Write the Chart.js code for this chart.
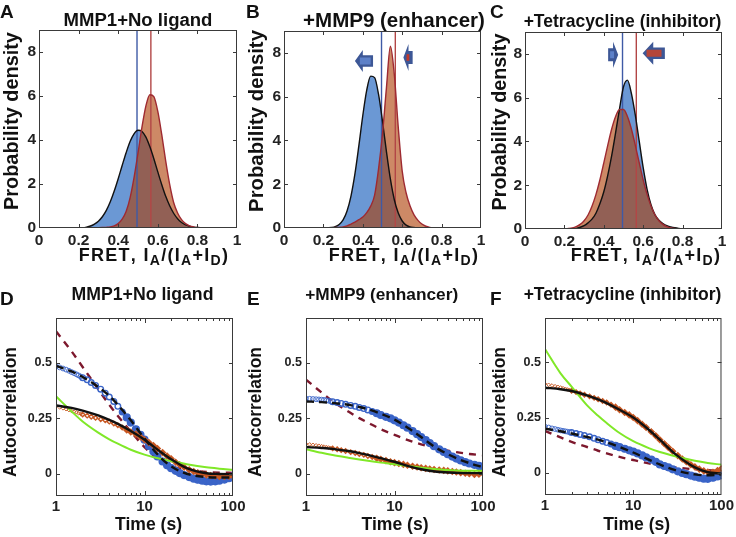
<!DOCTYPE html>
<html>
<head>
<meta charset="utf-8">
<script src="https://cdn.jsdelivr.net/npm/chart.js@4/dist/chart.umd.min.js"></script>
<style>
body { margin: 0; background: #fff; }
#wrap { position: relative; width: 736px; height: 537px; overflow: hidden; }
#wrap canvas { position: absolute; left: 0; top: 0; }
</style>
</head>
<body>
<div id="wrap">
<canvas id="pA" width="736" height="537"></canvas>
<canvas id="pB" width="736" height="537"></canvas>
<canvas id="pC" width="736" height="537"></canvas>
<canvas id="pD" width="736" height="537"></canvas>
<canvas id="pE" width="736" height="537"></canvas>
<canvas id="pF" width="736" height="537"></canvas>
</div>
<script>
// ---- FRET histograms (probability density), shared bins ----
var fretBins = [0.20, 0.22, 0.24, 0.26, 0.28, 0.30, 0.32, 0.34, 0.36, 0.38, 0.40, 0.42, 0.44, 0.46, 0.48, 0.50, 0.52, 0.54,
                0.56, 0.58, 0.60, 0.62, 0.64, 0.66, 0.68, 0.70, 0.72, 0.74, 0.76, 0.78, 0.80, 0.82, 0.84, 0.86, 0.88, 0.90];

var blueA   = [0, 0.01, 0.04, 0.09, 0.18, 0.31, 0.51, 0.80, 1.19, 1.68, 2.24, 2.84, 3.42, 3.93, 4.28, 4.44, 4.39, 4.13,
               3.69, 3.15, 2.55, 1.97, 1.44, 1.01, 0.67, 0.42, 0.25, 0.14, 0.08, 0.04, 0.02, 0.01, 0, 0, 0, 0];
var orangeA = [0, 0, 0, 0, 0, 0.01, 0.02, 0.03, 0.05, 0.10, 0.20, 0.40, 0.75, 1.37, 2.29, 3.40, 4.58, 5.55,
               6.06, 5.97, 5.30, 4.24, 3.04, 1.98, 1.16, 0.68, 0.38, 0.20, 0.10, 0.05, 0.02, 0.01, 0, 0, 0, 0];

var blueB   = [0, 0, 0.02, 0.06, 0.16, 0.37, 0.78, 1.46, 2.47, 3.76, 5.14, 6.30, 6.94, 6.87, 6.10, 4.87, 3.49, 2.24,
               1.29, 0.68, 0.32, 0.13, 0.05, 0.02, 0, 0, 0, 0, 0, 0, 0, 0, 0, 0, 0, 0];
var orangeB = [0, 0, 0, 0.02, 0.03, 0.05, 0.10, 0.18, 0.27, 0.38, 0.50, 0.70, 1.00, 1.50, 2.70, 4.30, 6.40, 8.30,
               7.00, 4.60, 2.60, 1.60, 1.00, 0.60, 0.35, 0.18, 0.08, 0.03, 0.01, 0, 0, 0, 0, 0, 0, 0];

var blueC   = [0, 0, 0.01, 0.03, 0.08, 0.15, 0.28, 0.45, 0.72, 1.15, 1.70, 2.45, 3.35, 4.40, 5.50, 6.50, 6.80, 6.20,
               5.20, 4.00, 2.80, 1.80, 1.10, 0.65, 0.40, 0.25, 0.15, 0.10, 0.06, 0.03, 0.01, 0, 0, 0, 0, 0];
var orangeC = [0, 0.02, 0.05, 0.11, 0.21, 0.38, 0.64, 1.04, 1.57, 2.24, 3.02, 3.82, 4.57, 5.14, 5.46, 5.46, 5.14, 4.57,
               3.82, 3.02, 2.24, 1.57, 1.04, 0.64, 0.38, 0.21, 0.11, 0.05, 0.02, 0, 0, 0, 0, 0, 0, 0];

var refFret = { blue: 0.495, red: 0.565 };
var densityMax = 9;
var densityTicks = [0, 2, 4, 6, 8];
var fretTicks = [0, 0.2, 0.4, 0.6, 0.8, 1];

// ---- autocorrelation data ----
var timeGrid = [1, 1.1, 1.2, 1.3, 1.4, 1.5, 1.6, 1.7, 1.8, 1.9, 2,
                2.25, 2.5, 2.8, 3.2, 3.6, 4, 4.5, 5, 5.6, 6.3, 7, 8, 9, 10,
                11.2, 12.6, 14, 16, 18, 20, 22.5, 25, 28, 32, 36, 40, 45, 50, 56, 63, 70, 80, 90, 100];

var acfBlueD  = [0.483, 0.478, 0.473, 0.468, 0.463, 0.457, 0.452, 0.447, 0.442, 0.437, 0.432,
                 0.422, 0.41, 0.397, 0.38, 0.362, 0.345, 0.325, 0.303, 0.278, 0.253, 0.23, 0.2, 0.175, 0.153,
                 0.125, 0.1, 0.078, 0.055, 0.038, 0.025, 0.013, 0.003, -0.006, -0.015, -0.022, -0.027, -0.031, -0.034, -0.035, -0.034, -0.031, -0.026, -0.02, -0.012];
var acfBrownD = [0.303, 0.298, 0.294, 0.29, 0.286, 0.282, 0.279, 0.276, 0.272, 0.269, 0.266,
                 0.261, 0.256, 0.251, 0.245, 0.24, 0.234, 0.226, 0.218, 0.208, 0.197, 0.188, 0.178, 0.165, 0.153,
                 0.14, 0.127, 0.113, 0.095, 0.08, 0.067, 0.052, 0.04, 0.029, 0.018, 0.01, 0.004, -0.001, -0.005, -0.008, -0.01, -0.012, -0.012, -0.011, -0.01];
var acfBlueE  = [0.338, 0.337, 0.336, 0.335, 0.334, 0.333, 0.332, 0.33, 0.328, 0.326, 0.324,
                 0.32, 0.316, 0.312, 0.307, 0.303, 0.298, 0.293, 0.287, 0.28, 0.272, 0.264, 0.256, 0.249, 0.24,
                 0.23, 0.218, 0.207, 0.192, 0.178, 0.165, 0.151, 0.138, 0.124, 0.11, 0.098, 0.088, 0.077, 0.068, 0.06, 0.052, 0.046, 0.04, 0.035, 0.03];
var acfBrownE = [0.134, 0.132, 0.13, 0.128, 0.126, 0.124, 0.122, 0.12, 0.118, 0.116, 0.114,
                 0.11, 0.106, 0.102, 0.097, 0.093, 0.089, 0.085, 0.08, 0.075, 0.07, 0.065, 0.059, 0.054, 0.05,
                 0.046, 0.042, 0.038, 0.034, 0.03, 0.027, 0.024, 0.021, 0.019, 0.017, 0.015, 0.013, 0.01, 0.008, 0.005, 0.002, 0, -0.003, -0.002, 0.002];
var acfBlueF  = [0.209, 0.205, 0.201, 0.198, 0.195, 0.192, 0.19, 0.188, 0.186, 0.184, 0.182,
                 0.178, 0.174, 0.169, 0.163, 0.156, 0.15, 0.143, 0.137, 0.13, 0.122, 0.116, 0.109, 0.102, 0.096,
                 0.088, 0.079, 0.07, 0.06, 0.05, 0.038, 0.031, 0.025, 0.016, 0.007, 0, -0.006, -0.012, -0.017, -0.022, -0.026, -0.027, -0.022, -0.016, -0.011];
var acfBrownF = [0.402, 0.398, 0.395, 0.392, 0.389, 0.386, 0.383, 0.38, 0.377, 0.374, 0.371,
                 0.365, 0.359, 0.353, 0.346, 0.339, 0.333, 0.325, 0.318, 0.308, 0.297, 0.285, 0.273, 0.262, 0.25,
                 0.236, 0.22, 0.205, 0.186, 0.168, 0.15, 0.132, 0.115, 0.098, 0.078, 0.063, 0.05, 0.037, 0.027, 0.017, 0.009, 0.004, 0.003, 0.01, 0.02];

// fitted / model curves
var fitTime = [1, 1.5, 2, 3, 4, 5, 7, 10, 15, 20, 30, 50, 70, 100];

var fitDashD = [0.485, 0.46, 0.435, 0.39, 0.35, 0.31, 0.24, 0.158, 0.075, 0.033, 0, -0.015, -0.017, -0.017];
var fitSolidD = [0.307, 0.296, 0.284, 0.262, 0.242, 0.224, 0.192, 0.153, 0.1, 0.065, 0.025, 0.002, -0.001, -0.002];
var modelRedD = [0.64, 0.55, 0.48, 0.38, 0.31, 0.26, 0.19, 0.12, 0.06, 0.035, 0.017, 0.008, 0.005, 0.004];
var modelGreenD = [0.348, 0.28, 0.235, 0.185, 0.155, 0.135, 0.108, 0.086, 0.067, 0.057, 0.043, 0.029, 0.023, 0.018];

var fitDashE = [0.325, 0.322, 0.318, 0.31, 0.3, 0.29, 0.27, 0.243, 0.2, 0.165, 0.115, 0.07, 0.048, 0.03];
var fitSolidE = [0.12, 0.116, 0.112, 0.102, 0.093, 0.085, 0.07, 0.054, 0.032, 0.02, 0.009, 0.004, 0.003, 0.003];
var modelRedE = [0.423, 0.365, 0.325, 0.28, 0.25, 0.23, 0.2, 0.175, 0.148, 0.132, 0.114, 0.097, 0.089, 0.083];
var modelGreenE = [0.11, 0.094, 0.084, 0.072, 0.064, 0.058, 0.05, 0.043, 0.034, 0.027, 0.02, 0.015, 0.014, 0.014];

var fitDashF = [0.2, 0.188, 0.178, 0.162, 0.15, 0.138, 0.117, 0.092, 0.06, 0.038, 0.012, -0.007, -0.011, -0.008];
var fitSolidF = [0.385, 0.378, 0.37, 0.35, 0.332, 0.315, 0.285, 0.25, 0.195, 0.15, 0.085, 0.025, 0.003, -0.003];
var modelRedF = [0.19, 0.16, 0.14, 0.117, 0.1, 0.088, 0.072, 0.058, 0.043, 0.034, 0.025, 0.016, 0.012, 0.008];
var modelGreenF = [0.56, 0.45, 0.39, 0.305, 0.258, 0.225, 0.18, 0.143, 0.112, 0.094, 0.075, 0.055, 0.045, 0.037];

var acfTicks = [0, 0.25, 0.5];
var timeTicks = [1, 2, 3, 4, 5, 6, 7, 8, 9, 10, 20, 30, 40, 50, 60, 70, 80, 90, 100];
var timeLabels = [1, 10, 100];

var fretTitle = [{ s: 'FRET, I' }, { s: 'A', sub: true }, { s: '/(I' }, { s: 'A', sub: true },
                 { s: '+I' }, { s: 'D', sub: true }, { s: ')' }];

var FONT = '"Liberation Sans", Arial, Helvetica, sans-serif';
Chart.defaults.font.family = FONT;
Chart.defaults.font.weight = 'bold';
Chart.defaults.color = '#222';

function pairs(xs, ys) {
    return xs.map(function(x, i) { return { x: x, y: ys[i] }; });
}

function sizeFor(ctx, text, width) {
    ctx.font = 'bold 100px ' + FONT;
    return 100 * width / ctx.measureText(text).width;
}

var SUB = 0.78;

function richWidth(ctx, parts, size) {
    var w = 0;
    parts.forEach(function(p) {
        ctx.font = 'bold ' + (p.sub ? size * SUB : size) + 'px ' + FONT;
        w += ctx.measureText(p.s).width;
    });
    return w;
}

function drawArrow(ctx, xs, ys, ar) {
    var tip = xs.getPixelForValue(ar.tip);
    var base = xs.getPixelForValue(ar.base);
    var tail = xs.getPixelForValue(ar.tail);
    var yc = ys.getPixelForValue(ar.y);
    var hh = ys.getPixelForValue(ar.y - ar.head) - yc;
    var sh = ys.getPixelForValue(ar.y - ar.shaft) - yc;
    ctx.beginPath();
    ctx.moveTo(tip, yc);
    ctx.lineTo(base, yc - hh);
    ctx.lineTo(base, yc - sh);
    ctx.lineTo(tail, yc - sh);
    ctx.lineTo(tail, yc + sh);
    ctx.lineTo(base, yc + sh);
    ctx.lineTo(base, yc + hh);
    ctx.closePath();
    ctx.fillStyle = '#3d5796';
    ctx.fill();
    var i0 = xs.getPixelForValue(ar.inner[0]);
    var i1 = xs.getPixelForValue(ar.inner[1]);
    var ih = ys.getPixelForValue(ar.y - ar.innerH) - yc;
    ctx.fillStyle = ar.innerColor;
    ctx.fillRect(Math.min(i0, i1), yc - ih, Math.abs(i1 - i0), 2 * ih);
}

var panelDecor = {
    id: 'panelDecor',
    afterDatasetsDraw: function(chart, args, o) {
        var ctx = chart.ctx, a = chart.chartArea;
        var xs = chart.scales.x, ys = chart.scales.y;
        ctx.save();
        (o.arrows || []).forEach(function(ar) { drawArrow(ctx, xs, ys, ar); });

        ctx.strokeStyle = '#3a3a3a';
        ctx.lineWidth = 1;
        ctx.strokeRect(a.left + 0.5, a.top + 0.5, a.right - a.left - 1, a.bottom - a.top - 1);
        ctx.beginPath();
        xs.ticks.forEach(function(t) {
            var px = Math.round(xs.getPixelForValue(t.value)) + 0.5;
            if (px <= a.left + 2 || px >= a.right - 2) return;
            var len = 4;
            if (o.logX) len = Math.abs(Math.log10(t.value) % 1) < 1e-9 ? 5 : 3;
            ctx.moveTo(px, a.bottom); ctx.lineTo(px, a.bottom - len);
            ctx.moveTo(px, a.top); ctx.lineTo(px, a.top + len);
        });
        ys.ticks.forEach(function(t) {
            var py = Math.round(ys.getPixelForValue(t.value)) + 0.5;
            if (py <= a.top + 2 || py >= a.bottom - 2) return;
            ctx.moveTo(a.left, py); ctx.lineTo(a.left + 4, py);
            ctx.moveTo(a.right, py); ctx.lineTo(a.right - 4, py);
        });
        ctx.stroke();
        ctx.restore();
    },
    afterDraw: function(chart, args, o) {
        var ctx = chart.ctx;
        ctx.save();
        ctx.fillStyle = '#111';
        // panel letter
        ctx.textAlign = 'left';
        ctx.textBaseline = 'alphabetic';
        ctx.font = 'bold 19px ' + FONT;
        ctx.fillText(o.letter.s, o.letter.x, o.letter.y);
        // title
        var t = o.title;
        ctx.textAlign = 'center';
        ctx.font = 'bold ' + sizeFor(ctx, t.s, t.w) + 'px ' + FONT;
        ctx.fillText(t.s, t.cx, t.y);
        // x title
        var xt = o.xTitle;
        if (xt.parts) {
            var size = xt.size;
            var natural = richWidth(ctx, xt.parts, size);
            var nChars = xt.parts.reduce(function(n, p) { return n + p.s.length; }, 0);
            var gap = Math.max(0, Math.min(1.3, (xt.w - natural) / nChars));
            var x = xt.cx - (natural + gap * nChars) / 2;
            ctx.textAlign = 'left';
            xt.parts.forEach(function(p) {
                var fs = p.sub ? size * SUB : size;
                ctx.font = 'bold ' + fs + 'px ' + FONT;
                for (var i = 0; i < p.s.length; i++) {
                    var ch = p.s.charAt(i);
                    ctx.fillText(ch, x, xt.y + (p.sub ? size * 0.22 : 0));
                    x += ctx.measureText(ch).width + gap;
                }
            });
        } else {
            ctx.font = 'bold ' + sizeFor(ctx, xt.s, xt.w) + 'px ' + FONT;
            ctx.fillText(xt.s, xt.cx, xt.y);
        }
        // y title
        var yt = o.yTitle;
        ctx.translate(yt.cx, yt.cy);
        ctx.rotate(-Math.PI / 2);
        ctx.textAlign = 'center';
        ctx.textBaseline = 'middle';
        ctx.font = 'bold ' + sizeFor(ctx, yt.s, yt.w) + 'px ' + FONT;
        ctx.fillText(yt.s, 0, 0);
        ctx.restore();
    }
};
Chart.register(panelDecor);

function refLine(x, color, order) {
    return { data: [{ x: x, y: 0 }, { x: x, y: densityMax }], borderColor: color, borderWidth: 1.4,
             order: order, tension: 0, cubicInterpolationMode: 'default', pointRadius: 0 };
}

function histChart(id, blue, orange, area, deco) {
    var datasets = [
        { data: pairs(fretBins, orange), borderColor: '#9e2a31', borderWidth: 1.4, order: 1 },
        { data: pairs(fretBins, blue), borderColor: '#111', borderWidth: 1.4, order: 2 },
        refLine(refFret.red, '#b24646', 3),
        refLine(refFret.blue, '#3e5aa6', 4),
        { data: pairs(fretBins, orange), borderColor: 'rgba(0,0,0,0)', borderWidth: 0, fill: 'origin',
          backgroundColor: 'rgba(172,58,0,0.6)', order: 5 },
        { data: pairs(fretBins, blue), borderColor: 'rgba(0,0,0,0)', borderWidth: 0, fill: 'origin',
          backgroundColor: '#6b98d4', order: 6 }
    ];
    return new Chart(document.getElementById(id), {
        type: 'line',
        data: { datasets: datasets },
        options: {
            responsive: false,
            animation: false,
            events: [],
            layout: { padding: { left: area.l - 30, top: area.t, right: 736 - area.r, bottom: 537 - area.b - 24 } },
            elements: { point: { radius: 0 }, line: { cubicInterpolationMode: 'monotone' } },
            plugins: { legend: { display: false }, tooltip: { enabled: false }, panelDecor: deco },
            scales: {
                x: {
                    type: 'linear', min: 0, max: 1,
                    grid: { display: false, drawTicks: false }, border: { display: false },
                    afterBuildTicks: function(s) { s.ticks = fretTicks.map(function(v) { return { value: v }; }); },
                    afterFit: function(s) { s.height = 24; },
                    ticks: { padding: 3, autoSkip: false, maxRotation: 0, color: '#222',
                             font: { size: 15.5, weight: 'bold' }, callback: function(v) { return String(v); } }
                },
                y: {
                    min: 0, max: densityMax,
                    grid: { display: false, drawTicks: false }, border: { display: false },
                    afterBuildTicks: function(s) { s.ticks = densityTicks.map(function(v) { return { value: v }; }); },
                    afterFit: function(s) { s.width = 30; },
                    ticks: { padding: 3, color: '#222', font: { size: 15.5, weight: 'bold' },
                             callback: function(v) { return String(v); } }
                }
            }
        }
    });
}

function fitLine(ys, color, dash, width, order) {
    return { data: pairs(fitTime, ys), borderColor: color, borderDash: dash, borderWidth: width,
             order: order, pointRadius: 0, fill: false };
}

function markers(ys, color, style, order, small) {
    return {
        data: pairs(timeGrid, ys), showLine: false, order: order, pointStyle: style,
        pointBorderColor: color,
        pointBackgroundColor: function(c) { return c.raw && c.raw.x > 5 ? color : 'rgba(255,255,255,0)'; },
        pointRadius: function(c) {
            var t = c.raw ? c.raw.x : 1;
            var r = t < 2 ? 2.4 : (t < 6 ? 2.8 : 3.4);
            return small ? r - 0.6 : r;
        },
        pointBorderWidth: function(c) { var t = c.raw ? c.raw.x : 1; return t < 2 ? 0.9 : 1.4; }
    };
}

function acfChart(id, s, area, deco) {
    var datasets = [
        fitLine(s.solid, '#111', [], 2.4, 1),
        fitLine(s.dash, '#111', [8, 5], 2.4, 2),
        fitLine(s.green, 'rgb(128,232,40)', [], 2, 3),
        markers(s.brown, 'rgb(200,88,35)', 'rectRot', 4, true),
        markers(s.blue, 'rgb(58,100,200)', 'circle', 5, false),
        fitLine(s.red, 'rgb(125,24,45)', [7, 6], 2.4, 6)
    ];
    return new Chart(document.getElementById(id), {
        type: 'line',
        data: { datasets: datasets },
        options: {
            responsive: false,
            animation: false,
            events: [],
            layout: { padding: { left: area.l - 30, top: area.t, right: 736 - area.r, bottom: 537 - area.b - 22 } },
            elements: { point: { radius: 0 }, line: { cubicInterpolationMode: 'monotone' } },
            plugins: { legend: { display: false }, tooltip: { enabled: false }, panelDecor: deco },
            scales: {
                x: {
                    type: 'logarithmic', min: 1, max: 100,
                    grid: { display: false, drawTicks: false }, border: { display: false },
                    afterBuildTicks: function(sc) { sc.ticks = timeTicks.map(function(v) { return { value: v }; }); },
                    afterFit: function(sc) { sc.height = 22; },
                    ticks: { padding: 2, autoSkip: false, maxRotation: 0, color: '#222',
                             font: { size: 15, weight: 'bold' },
                             callback: function(v) { return timeLabels.indexOf(v) >= 0 ? String(v) : ''; } }
                },
                y: {
                    min: -0.1, max: 0.7,
                    grid: { display: false, drawTicks: false }, border: { display: false },
                    afterBuildTicks: function(sc) { sc.ticks = acfTicks.map(function(v) { return { value: v }; }); },
                    afterFit: function(sc) { sc.width = 30; },
                    ticks: { padding: 4, color: '#222', font: { size: 12.5, weight: 'bold' },
                             callback: function(v) { return String(v); } }
                }
            }
        }
    });
}

histChart('pA', blueA, orangeA, { l: 39, t: 30, r: 237, b: 228 }, {
    letter: { s: 'A', x: 0, y: 18 },
    title: { s: 'MMP1+No ligand', cx: 138, y: 26, w: 149 },
    xTitle: { parts: fretTitle, cx: 153, y: 261, w: 152, size: 18 },
    yTitle: { s: 'Probability density', cx: 12.5, cy: 121, w: 178 }
});
histChart('pB', blueB, orangeB, { l: 284, t: 31, r: 481, b: 228 }, {
    letter: { s: 'B', x: 246, y: 18 },
    title: { s: '+MMP9 (enhancer)', cx: 394, y: 27, w: 182 },
    xTitle: { parts: fretTitle, cx: 403, y: 261, w: 158, size: 18 },
    yTitle: { s: 'Probability density', cx: 257.5, cy: 121, w: 182 },
    arrows: [
        { tip: 0.36, base: 0.40, tail: 0.452, y: 7.63, head: 0.5, shaft: 0.26, inner: [0.385, 0.44], innerH: 0.16, innerColor: '#5d80c8' },
        { tip: 0.606, base: 0.632, tail: 0.653, y: 7.79, head: 0.62, shaft: 0.3, inner: [0.622, 0.636], innerH: 0.15, innerColor: '#c0392b' }
    ]
});
histChart('pC', blueC, orangeC, { l: 525, t: 32, r: 722, b: 229 }, {
    letter: { s: 'C', x: 490, y: 18 },
    title: { s: '+Tetracycline (inhibitor)', cx: 622.5, y: 27, w: 198 },
    xTitle: { parts: fretTitle, cx: 645, y: 261, w: 158, size: 18 },
    yTitle: { s: 'Probability density', cx: 500.5, cy: 122, w: 177 },
    arrows: [
        { tip: 0.473, base: 0.447, tail: 0.422, y: 7.96, head: 0.6, shaft: 0.3, inner: [0.432, 0.452], innerH: 0.16, innerColor: '#5d80c8' },
        { tip: 0.597, base: 0.651, tail: 0.71, y: 8.03, head: 0.53, shaft: 0.26, inner: [0.617, 0.693], innerH: 0.16, innerColor: '#b5463a' }
    ]
});

acfChart('pD', { blue: acfBlueD, brown: acfBrownD, dash: fitDashD, solid: fitSolidD, red: modelRedD, green: modelGreenD },
    { l: 56, t: 318, r: 233, b: 496 }, {
    logX: true,
    letter: { s: 'D', x: 0, y: 305 },
    title: { s: 'MMP1+No ligand', cx: 142.5, y: 300, w: 142 },
    xTitle: { s: 'Time (s)', cx: 148.5, y: 530, w: 67 },
    yTitle: { s: 'Autocorrelation', cx: 11.5, cy: 412, w: 130 }
});
acfChart('pE', { blue: acfBlueE, brown: acfBrownE, dash: fitDashE, solid: fitSolidE, red: modelRedE, green: modelGreenE },
    { l: 306, t: 318, r: 483, b: 496 }, {
    logX: true,
    letter: { s: 'E', x: 247, y: 305 },
    title: { s: '+MMP9 (enhancer)', cx: 381.7, y: 300, w: 153 },
    xTitle: { s: 'Time (s)', cx: 395, y: 530, w: 67 },
    yTitle: { s: 'Autocorrelation', cx: 256.5, cy: 412, w: 130 }
});
acfChart('pF', { blue: acfBlueF, brown: acfBrownF, dash: fitDashF, solid: fitSolidF, red: modelRedF, green: modelGreenF },
    { l: 545, t: 318, r: 722, b: 495 }, {
    logX: true,
    letter: { s: 'F', x: 490, y: 305 },
    title: { s: '+Tetracycline (inhibitor)', cx: 622.5, y: 300, w: 198 },
    xTitle: { s: 'Time (s)', cx: 636.7, y: 530, w: 67 },
    yTitle: { s: 'Autocorrelation', cx: 500, cy: 412, w: 130 }
});
</script>
</body>
</html>
